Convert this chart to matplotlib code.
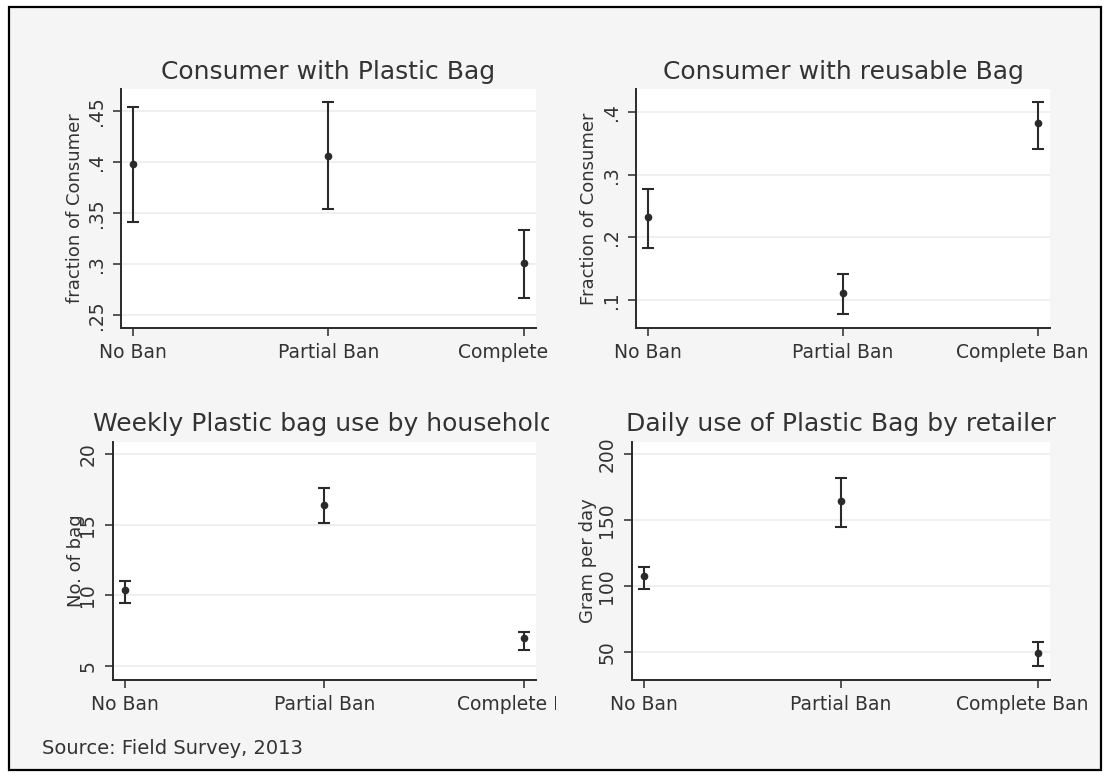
import matplotlib
matplotlib.use("Agg")
import matplotlib.pyplot as plt
import matplotlib.transforms as mtransforms
from matplotlib.patches import Rectangle

groups = ["No Ban", "Partial Ban", "Complete Ban"]

plastic_mean = [0.3978, 0.4056, 0.3012]
plastic_lo = [0.3413, 0.3535, 0.2663]
plastic_hi = [0.4539, 0.4582, 0.3332]
plastic_ticks = [0.25, 0.30, 0.35, 0.40, 0.45]
plastic_ticklabels = [".25", ".3", ".35", ".4", ".45"]

reusable_mean = [0.2331, 0.1107, 0.3822]
reusable_lo = [0.1836, 0.0771, 0.3413]
reusable_hi = [0.2774, 0.1411, 0.4159]
reusable_ticks = [0.1, 0.2, 0.3, 0.4]
reusable_ticklabels = [".1", ".2", ".3", ".4"]

weekly_mean = [10.38, 16.39, 6.96]
weekly_lo = [9.43, 15.14, 6.13]
weekly_hi = [11.01, 17.57, 7.42]
weekly_ticks = [5, 10, 15, 20]
weekly_ticklabels = ["5", "10", "15", "20"]

daily_mean = [107.4, 164.3, 49.2]
daily_lo = [97.3, 144.8, 39.1]
daily_hi = [114.5, 181.6, 57.1]
daily_ticks = [50, 100, 150, 200]
daily_ticklabels = ["50", "100", "150", "200"]

W, H = 1108, 776
DARK = "#2a2a2a"
TEXT = "#333333"

fig = plt.figure(figsize=(W / 100, H / 100), dpi=100)
fig.patch.set_facecolor("white")

# light grey panel inside the black frame
fig.patches.append(Rectangle((9 / W, 1 - 770 / H), 1092 / W, 763 / H,
                             transform=fig.transFigure, facecolor="#f5f5f5",
                             edgecolor="black", lw=1.6, zorder=-1))

# clip region for the left column (Stata cuts text at the panel edge)
title_clip = mtransforms.TransformedBbox(
    mtransforms.Bbox([[0, 0], [549 / W, 1]]), fig.transFigure)
label_clip = mtransforms.TransformedBbox(
    mtransforms.Bbox([[0, 0], [556 / W, 1]]), fig.transFigure)


def panel(rect, title, ylabel, mean, lo, hi, ticks, ticklabels, ylim,
          label_x, clip_left):
    ax = fig.add_axes(rect)
    ax.set_facecolor("white")
    x = list(range(len(groups)))
    err = [[m - l for m, l in zip(mean, lo)], [h - m for m, h in zip(mean, hi)]]
    ax.errorbar(x, mean, yerr=err, fmt="o", ms=4.5, color=DARK,
                ecolor=DARK, elinewidth=1.5, capsize=4.5, capthick=1.5)
    ax.set_xlim(-0.06, 2.06)
    ax.set_ylim(*ylim)
    ax.set_xticks(x)
    ax.set_xticklabels(groups, fontsize=13.5, color=TEXT)
    ax.set_yticks(ticks)
    ax.set_yticklabels(ticklabels, fontsize=13.5, color=TEXT,
                       rotation=90, va="center")
    ax.tick_params(length=6, width=1.1, color=DARK, pad=5)
    for s in ["top", "right"]:
        ax.spines[s].set_visible(False)
    for s in ["left", "bottom"]:
        ax.spines[s].set_linewidth(1.4)
        ax.spines[s].set_color(DARK)
    ax.yaxis.grid(True, color="#ececec", lw=1.2)
    ax.set_axisbelow(True)
    t = ax.set_title(title, fontsize=18, color=TEXT, pad=7.5)
    ax.set_ylabel(ylabel, fontsize=13, color=TEXT, va="center")
    ax.yaxis.set_label_coords(label_x, 0.5)
    labels = ax.get_xticklabels()
    if clip_left:
        t.set_clip_on(True)
        t.set_clip_box(title_clip)
        for lab in labels:
            lab.set_clip_on(True)
            lab.set_clip_box(label_clip)
    else:
        off = mtransforms.ScaledTranslation(-16 / 100, 0, fig.dpi_scale_trans)
        labels[2].set_transform(labels[2].get_transform() + off)
    return ax


panel([0.1092, 0.5773, 0.3743, 0.3080], "Consumer with Plastic Bag",
      "fraction of Consumer", plastic_mean, plastic_lo, plastic_hi,
      plastic_ticks, plastic_ticklabels, (0.2373, 0.4712), -0.111, True)
panel([0.5740, 0.5777, 0.3737, 0.3076], "Consumer with reusable Bag",
      "Fraction of Consumer", reusable_mean, reusable_lo, reusable_hi,
      reusable_ticks, reusable_ticklabels, (0.0557, 0.4372), -0.114, False)
panel([0.1017, 0.1237, 0.3818, 0.3071], "Weekly Plastic bag use by household",
      "No. of bag", weekly_mean, weekly_lo, weekly_hi,
      weekly_ticks, weekly_ticklabels, (4.01, 20.87), -0.087, True)
panel([0.5701, 0.1237, 0.3776, 0.3071], "Daily use of Plastic Bag by retailer",
      "Gram per day", daily_mean, daily_lo, daily_hi,
      daily_ticks, daily_ticklabels, (28.5, 209.3), -0.104, False)

fig.text(42 / W, 1 - 749 / H, "Source: Field Survey, 2013", fontsize=14,
         color=TEXT, va="center", ha="left")

fig.savefig("out.png", dpi=100)
